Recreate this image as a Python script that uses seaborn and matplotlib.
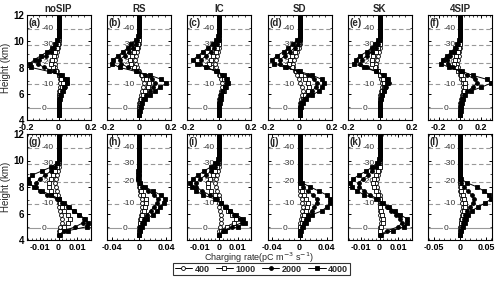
import numpy as np
import pandas as pd
import matplotlib
matplotlib.use("Agg")
import matplotlib.pyplot as plt
from matplotlib.ticker import AutoMinorLocator, MultipleLocator
import seaborn as sns

# model levels (km)
heights = [4.4, 4.7, 5.0, 5.3, 5.6, 5.9, 6.2, 6.5, 6.8, 7.1, 7.4, 7.7, 8.0,
           8.3, 8.6, 8.9, 9.2, 9.5, 9.8, 10.1, 10.4, 10.7, 11.0, 11.3, 11.6, 11.9]

# isotherms
temp_labels = ["0", "-10", "-20", "-30", "-40"]
temp_heights = [4.9, 6.72, 8.38, 9.75, 10.95]

titles = ["noSIP", "RS", "IC", "SD", "SK", "4SIP"]
letters = ["(a)", "(b)", "(c)", "(d)", "(e)", "(f)", "(g)", "(h)", "(i)", "(j)", "(k)", "(l)"]
series = ["400", "1000", "2000", "4000"]

# charging rate (pC m-3 s-1), top row
a400 = [0, 0, 0, 0, 0, 0.002, 0.005, 0.01, 0.012, 0.008, 0, -0.01, -0.02, -0.025, -0.02, -0.015, -0.01, -0.005, 0, 0, 0, 0, 0, 0, 0, 0]
a1000 = [0, 0, 0, 0, 0.002, 0.005, 0.01, 0.02, 0.025, 0.015, 0, -0.015, -0.035, -0.045, -0.04, -0.03, -0.02, -0.01, -0.005, 0, 0, 0, 0, 0, 0, 0]
a2000 = [0, 0, 0, 0.003, 0.006, 0.01, 0.02, 0.04, 0.055, 0.04, 0.01, -0.03, -0.09, -0.13, -0.12, -0.08, -0.05, -0.03, -0.015, -0.005, 0, 0, 0, 0, 0, 0]
a4000 = [0, 0, 0, 0.005, 0.01, 0.015, 0.025, 0.035, 0.055, 0.05, 0.02, -0.06, -0.17, -0.18, -0.15, -0.11, -0.07, -0.04, -0.02, -0.01, 0, 0, 0, 0, 0, 0]

b400 = [0, 0, 0, 0.003, 0.006, 0.012, 0.02, 0.028, 0.03, 0.022, 0.01, 0, -0.01, -0.02, -0.025, -0.02, -0.012, -0.005, 0, 0, 0, 0, 0, 0, 0, 0]
b1000 = [0, 0, 0.003, 0.006, 0.012, 0.025, 0.04, 0.055, 0.06, 0.045, 0.02, -0.005, -0.03, -0.05, -0.055, -0.045, -0.03, -0.015, -0.005, 0, 0, 0, 0, 0, 0, 0]
b2000 = [0, 0.003, 0.006, 0.012, 0.025, 0.045, 0.07, 0.09, 0.1, 0.08, 0.04, -0.01, -0.07, -0.11, -0.12, -0.09, -0.06, -0.04, -0.02, -0.01, 0, 0, 0, 0, 0, 0]
b4000 = [0, 0.005, 0.01, 0.02, 0.04, 0.07, 0.1, 0.13, 0.17, 0.14, 0.07, -0.02, -0.12, -0.17, -0.16, -0.13, -0.1, -0.07, -0.05, -0.02, -0.005, 0, 0, 0, 0, 0]

c400 = [0, 0, 0, 0, 0.003, 0.006, 0.012, 0.018, 0.02, 0.012, 0, -0.01, -0.02, -0.025, -0.02, -0.012, -0.005, 0, 0, 0, 0, 0, 0, 0, 0, 0]
c1000 = [0, 0, 0, 0.003, 0.008, 0.015, 0.03, 0.045, 0.05, 0.03, 0.005, -0.02, -0.05, -0.06, -0.05, -0.035, -0.02, -0.01, 0, 0, 0, 0, 0, 0, 0, 0]
c2000 = [0, 0, 0, 0.003, 0.008, 0.012, 0.02, 0.035, 0.05, 0.045, 0.02, -0.02, -0.08, -0.12, -0.11, -0.08, -0.05, -0.03, -0.015, 0, 0, 0, 0, 0, 0, 0]
c4000 = [0, 0, 0, 0.005, 0.01, 0.015, 0.025, 0.04, 0.055, 0.05, 0.03, -0.01, -0.08, -0.14, -0.16, -0.13, -0.1, -0.07, -0.04, -0.02, -0.005, 0, 0, 0, 0, 0]

d400 = [0, 0, 0.002, 0.005, 0.01, 0.018, 0.02, 0.015, 0.005, -0.005, -0.015, -0.03, -0.04, -0.04, -0.035, -0.025, -0.015, -0.005, 0, 0, 0, 0, 0, 0, 0, 0]
d1000 = [0, 0, 0.003, 0.01, 0.02, 0.035, 0.05, 0.06, 0.055, 0.035, 0.01, -0.02, -0.05, -0.065, -0.06, -0.045, -0.03, -0.015, -0.005, 0, 0, 0, 0, 0, 0, 0]
d2000 = [0, 0.003, 0.006, 0.012, 0.025, 0.05, 0.08, 0.1, 0.11, 0.09, 0.05, -0.01, -0.08, -0.12, -0.12, -0.09, -0.06, -0.03, -0.01, 0, 0, 0, 0, 0, 0, 0]
d4000 = [0, 0.005, 0.01, 0.02, 0.04, 0.08, 0.12, 0.14, 0.15, 0.14, 0.08, 0, -0.09, -0.16, -0.17, -0.14, -0.1, -0.07, -0.04, -0.015, 0, 0, 0, 0, 0, 0]

e400 = [0, 0, 0, 0, 0.002, 0.005, 0.01, 0.015, 0.018, 0.01, 0, -0.01, -0.02, -0.022, -0.018, -0.012, -0.005, 0, 0, 0, 0, 0, 0, 0, 0, 0]
e1000 = [0, 0, 0, 0.002, 0.005, 0.01, 0.015, 0.025, 0.03, 0.02, 0.005, -0.01, -0.03, -0.045, -0.05, -0.04, -0.025, -0.01, 0, 0, 0, 0, 0, 0, 0, 0]
e2000 = [0, 0, 0, 0.003, 0.008, 0.015, 0.025, 0.04, 0.06, 0.045, 0.02, -0.02, -0.08, -0.12, -0.11, -0.08, -0.05, -0.025, -0.01, 0, 0, 0, 0, 0, 0, 0]
e4000 = [0, 0, 0, 0.005, 0.01, 0.015, 0.025, 0.035, 0.045, 0.05, 0.03, -0.02, -0.1, -0.16, -0.15, -0.12, -0.08, -0.05, -0.03, -0.01, 0, 0, 0, 0, 0, 0]

f400 = [0, 0, 0, 0.003, 0.008, 0.015, 0.025, 0.03, 0.025, 0.012, 0, -0.01, -0.02, -0.025, -0.02, -0.012, -0.005, 0, 0, 0, 0, 0, 0, 0, 0, 0]
f1000 = [0, 0, 0.003, 0.008, 0.015, 0.025, 0.04, 0.05, 0.05, 0.03, 0.01, -0.015, -0.04, -0.055, -0.05, -0.035, -0.02, -0.01, 0, 0, 0, 0, 0, 0, 0, 0]
f2000 = [0, 0.003, 0.006, 0.012, 0.02, 0.035, 0.07, 0.12, 0.16, 0.14, 0.07, 0, -0.07, -0.11, -0.12, -0.09, -0.06, -0.035, -0.015, 0, 0, 0, 0, 0, 0, 0]
f4000 = [0, 0.005, 0.01, 0.02, 0.03, 0.05, 0.1, 0.2, 0.29, 0.25, 0.12, 0.02, -0.1, -0.18, -0.16, -0.12, -0.08, -0.05, -0.03, -0.01, 0, 0, 0, 0, 0, 0]

# bottom row
g400 = [0, 0, 0.001, 0.002, 0.002, 0.0015, 0.001, 0.0005, 0, 0, -0.0005, -0.001, -0.0015, -0.002, -0.0015, -0.001, -0.0005, 0, 0, 0, 0, 0, 0, 0, 0, 0]
g1000 = [0, 0.001, 0.003, 0.005, 0.006, 0.005, 0.003, 0.002, 0.001, 0, -0.002, -0.004, -0.005, -0.005, -0.004, -0.003, -0.002, -0.001, 0, 0, 0, 0, 0, 0, 0, 0]
g2000 = [0.0005, 0.003, 0.009, 0.013, 0.0135, 0.011, 0.008, 0.005, 0.002, -0.001, -0.006, -0.01, -0.012, -0.012, -0.01, -0.007, -0.004, -0.002, -0.0005, 0, 0, 0, 0, 0, 0, 0]
g4000 = [0.001, 0.005, 0.015, 0.0155, 0.014, 0.011, 0.008, 0.0055, 0.003, 0.0005, -0.004, -0.009, -0.013, -0.0155, -0.016, -0.014, -0.009, -0.004, -0.001, 0, 0, 0, 0, 0, 0, 0]

h400 = [0, 0, 0, 0.001, 0.002, 0.003, 0.004, 0.005, 0.005, 0.004, 0.002, 0.001, 0, 0, 0, 0, 0, 0, 0, 0, 0, 0, 0, 0, 0, 0]
h1000 = [0, 0, 0.001, 0.002, 0.003, 0.005, 0.007, 0.009, 0.011, 0.01, 0.006, 0.003, 0.001, 0, 0, 0, 0, 0, 0, 0, 0, 0, 0, 0, 0, 0]
h2000 = [0, 0.001, 0.002, 0.004, 0.007, 0.012, 0.017, 0.022, 0.027, 0.028, 0.022, 0.013, 0.005, 0.001, -0.001, 0, 0, 0, 0, 0, 0, 0, 0, 0, 0, 0]
h4000 = [0, 0.002, 0.004, 0.007, 0.012, 0.02, 0.027, 0.031, 0.036, 0.038, 0.032, 0.02, 0.009, 0.002, -0.002, -0.002, -0.001, 0, 0, 0, 0, 0, 0, 0, 0, 0]

i400 = [0, 0, 0.0005, 0.001, 0.001, 0.001, 0.0005, 0, 0, 0, 0, -0.001, -0.0015, -0.002, -0.0015, -0.001, -0.0005, 0, 0, 0, 0, 0, 0, 0, 0, 0]
i1000 = [0, 0.001, 0.004, 0.008, 0.009, 0.007, 0.005, 0.003, 0.001, 0, -0.002, -0.004, -0.006, -0.006, -0.005, -0.003, -0.002, -0.001, 0, 0, 0, 0, 0, 0, 0, 0]
i2000 = [0, 0.002, 0.007, 0.012, 0.011, 0.008, 0.006, 0.003, 0.001, -0.001, -0.005, -0.009, -0.012, -0.012, -0.01, -0.007, -0.004, -0.002, -0.0005, 0, 0, 0, 0, 0, 0, 0]
i4000 = [0, 0.003, 0.01, 0.014, 0.013, 0.009, 0.006, 0.0035, 0.001, -0.002, -0.0086, -0.012, -0.0145, -0.0155, -0.014, -0.011, -0.008, -0.0045, -0.002, -0.0005, 0, 0, 0, 0, 0, 0]

j400 = [0, 0, 0, 0.001, 0.002, 0.003, 0.004, 0.005, 0.004, 0.003, 0.001, 0, 0, 0, 0, 0, 0, 0, 0, 0, 0, 0, 0, 0, 0, 0]
j1000 = [0, 0, 0.001, 0.003, 0.005, 0.007, 0.009, 0.011, 0.012, 0.01, 0.006, 0.003, 0.001, 0, 0, 0, 0, 0, 0, 0, 0, 0, 0, 0, 0, 0]
j2000 = [0, 0.001, 0.003, 0.006, 0.009, 0.013, 0.018, 0.022, 0.025, 0.025, 0.02, 0.012, 0.005, 0.001, 0, 0, 0, 0, 0, 0, 0, 0, 0, 0, 0, 0]
j4000 = [0, 0.002, 0.005, 0.009, 0.013, 0.018, 0.033, 0.04, 0.045, 0.045, 0.04, 0.028, 0.016, 0.004, 0, 0, 0, 0, 0, 0, 0, 0, 0, 0, 0, 0]

k400 = [0, 0, 0.0005, 0.001, 0.001, 0.0005, 0, 0, 0, 0, 0, -0.001, -0.0015, -0.002, -0.0015, -0.001, -0.0005, 0, 0, 0, 0, 0, 0, 0, 0, 0]
k1000 = [0, 0, 0.001, 0.002, 0.002, 0.0015, 0.001, 0.0005, 0, 0, -0.001, -0.002, -0.003, -0.0035, -0.003, -0.002, -0.001, 0, 0, 0, 0, 0, 0, 0, 0, 0]
k2000 = [0.0005, 0.004, 0.01, 0.012, 0.011, 0.009, 0.006, 0.004, 0.001, -0.001, -0.005, -0.008, -0.011, -0.011, -0.009, -0.006, -0.004, -0.002, -0.0005, 0, 0, 0, 0, 0, 0, 0]
k4000 = [0.001, 0.007, 0.013, 0.0145, 0.0147, 0.011, 0.008, 0.005, 0.002, -0.0017, -0.008, -0.012, -0.0147, -0.0155, -0.014, -0.011, -0.007, -0.004, -0.0015, -0.0005, 0, 0, 0, 0, 0, 0]

l400 = [0, 0, 0, 0.001, 0.002, 0.003, 0.004, 0.005, 0.004, 0.003, 0.001, 0, 0, 0, 0, 0, 0, 0, 0, 0, 0, 0, 0, 0, 0, 0]
l1000 = [0, 0, 0.001, 0.002, 0.004, 0.006, 0.008, 0.01, 0.01, 0.008, 0.005, 0.002, 0.001, 0, 0, 0, 0, 0, 0, 0, 0, 0, 0, 0, 0, 0]
l2000 = [0, 0.001, 0.003, 0.005, 0.007, 0.01, 0.014, 0.02, 0.025, 0.026, 0.022, 0.015, 0.008, 0.002, 0, 0, 0, 0, 0, 0, 0, 0, 0, 0, 0, 0]
l4000 = [0, 0.002, 0.006, 0.009, 0.011, 0.015, 0.022, 0.035, 0.048, 0.06, 0.056, 0.045, 0.033, 0.014, 0.002, 0, 0, 0, 0, 0, 0, 0, 0, 0, 0, 0]

panel_data = [
    (a400, a1000, a2000, a4000), (b400, b1000, b2000, b4000),
    (c400, c1000, c2000, c4000), (d400, d1000, d2000, d4000),
    (e400, e1000, e2000, e4000), (f400, f1000, f2000, f4000),
    (g400, g1000, g2000, g4000), (h400, h1000, h2000, h4000),
    (i400, i1000, i2000, i4000), (j400, j1000, j2000, j4000),
    (k400, k1000, k2000, k4000), (l400, l1000, l2000, l4000),
]

xlims = [(-0.2, 0.2)] * 5 + [(-0.3, 0.3),
         (-0.017, 0.017), (-0.047, 0.047), (-0.017, 0.017),
         (-0.047, 0.047), (-0.017, 0.017), (-0.061, 0.061)]
xticks = [[-0.2, 0, 0.2]] * 6 + [[-0.01, 0, 0.01], [-0.04, 0, 0.04], [-0.01, 0, 0.01],
                                 [-0.04, 0, 0.04], [-0.01, 0, 0.01], [-0.05, 0, 0.05]]
xticklabels = [["-0.2", "0", "0.2"]] * 6 + [["-0.01", "0", "0.01"], ["-0.04", "0", "0.04"],
                                            ["-0.01", "0", "0.01"], ["-0.04", "0", "0.04"],
                                            ["-0.01", "0", "0.01"], ["-0.05", "0", "0.05"]]

sns.set_theme(style="ticks")
plt.rcParams["font.family"] = ["Liberation Sans", "DejaVu Sans"]
plt.rcParams["xtick.direction"] = "in"
plt.rcParams["ytick.direction"] = "in"
plt.rcParams["xtick.top"] = True
plt.rcParams["ytick.right"] = True
plt.rcParams["axes.linewidth"] = 0.8
plt.rcParams["xtick.major.size"] = 2.5
plt.rcParams["ytick.major.size"] = 2.5
plt.rcParams["xtick.minor.size"] = 1.3
plt.rcParams["ytick.minor.size"] = 1.3
plt.rcParams["xtick.major.pad"] = 2
plt.rcParams["ytick.major.pad"] = 1.5

styles = {
    "400": dict(marker="o", markerfacecolor="white", markersize=2.8),
    "1000": dict(marker="s", markerfacecolor="white", markersize=2.3),
    "2000": dict(marker="o", markerfacecolor="black", markersize=2.8),
    "4000": dict(marker="s", markerfacecolor="black", markersize=2.3),
}
draw_order = [0, 1, 3, 2]

W, H = 500, 282
fig = plt.figure(figsize=(5, 2.82), dpi=100)
lefts = [26.5, 107, 187, 267.5, 347.5, 428]
rows = [(15, 120), (134, 240)]

handles = {}
for p in range(12):
    r, c = divmod(p, 6)
    top, bot = rows[r]
    ax = fig.add_axes([lefts[c] / W, 1 - bot / H, 64 / W, (bot - top) / H])
    for lab, th in zip(temp_labels, temp_heights):
        ax.axhline(th, color="0.6", lw=0.8, ls="-" if lab == "0" else (0, (4, 2.5)), zorder=1)
        ax.text(0.24, th, lab, transform=ax.get_yaxis_transform(), ha="left", va="center",
                fontsize=6, color="0.2", zorder=1.5,
                bbox=dict(facecolor="white", edgecolor="none", pad=0.4))
    for s in draw_order:
        sns.lineplot(x=panel_data[p][s], y=heights, ax=ax, orient="y", sort=False,
                     estimator=None, color="black", lw=0.7, markeredgecolor="black",
                     markeredgewidth=0.6, zorder=3, **styles[series[s]])
        handles[series[s]] = ax.lines[-1]
    ax.set_xlim(*xlims[p])
    ax.set_ylim(4, 12)
    ax.set_xticks(xticks[p], xticklabels[p])
    ax.set_yticks([4, 6, 8, 10, 12])
    ax.xaxis.set_minor_locator(AutoMinorLocator(5))
    ax.yaxis.set_minor_locator(MultipleLocator(1))
    ax.tick_params(labelsize=6.5, colors="black", width=0.7)
    ax.tick_params(axis="y", labelsize=7)
    ax.tick_params(which="minor", width=0.6)
    for lbl in ax.get_xticklabels() + ax.get_yticklabels():
        lbl.set_fontweight("bold")
    if c > 0:
        ax.set_yticklabels([])
    else:
        ax.set_ylabel("Height (km)", fontsize=7, labelpad=2)
    ax.set_xlabel("")
    for sp in ax.spines.values():
        sp.set_color("black")
    ax.text(0.03, 0.97, letters[p], transform=ax.transAxes, ha="left", va="top",
            fontsize=7, fontweight="bold")
    if r == 0:
        ax.set_title(titles[c], fontsize=7, fontweight="bold", pad=2)

fig.text(259 / W, 1 - 258 / H, "Charging rate(pC m$^{-3}$ s$^{-1}$)", ha="center", va="center",
         fontsize=6.5)
leg = fig.legend([handles[s] for s in series], series, loc="center", ncol=4,
                 bbox_to_anchor=(261.5 / W, 1 - 269 / H), frameon=True, fancybox=False,
                 edgecolor="black", handlelength=1.9, handletextpad=0.3,
                 columnspacing=0.7, borderpad=0.2, borderaxespad=0,
                 prop=dict(weight="bold", size=6.5))
leg.get_frame().set_linewidth(0.8)

fig.savefig("out.png", dpi=100)
